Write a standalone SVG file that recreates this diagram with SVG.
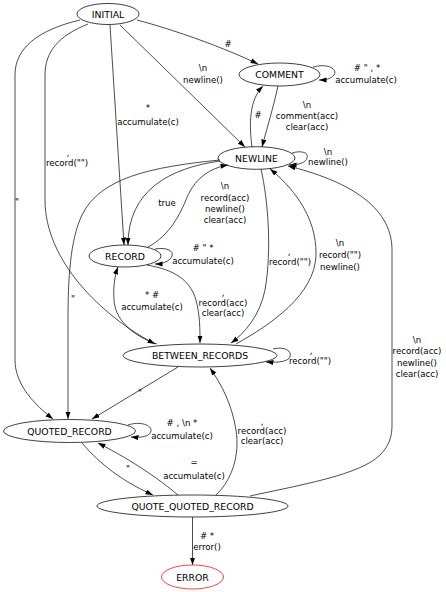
<svg xmlns="http://www.w3.org/2000/svg" width="446" height="592" viewBox="0 0 446 592">
<style>
.n ellipse{fill:none;stroke:#000;stroke-width:0.75}
.n text{font-family:"DejaVu Sans",sans-serif;font-size:9.3px;text-anchor:middle;fill:#000}
.e path{fill:none;stroke:#000;stroke-width:0.7;marker-end:url(#ah)}
.l text{font-family:"DejaVu Sans",sans-serif;font-size:8.6px;text-anchor:middle;fill:#000}
</style>
<defs>
<marker id="ah" markerUnits="userSpaceOnUse" markerWidth="9" markerHeight="6" refX="7.5" refY="2.6" orient="auto">
<path d="M0,0 L7.5,2.6 L0,5.2 z" fill="#000"/>
</marker>
</defs>
<rect width="446" height="592" fill="#fff"/>
<g id="edges" class="e">
<path d="M137,20 C175,30 225,48 258,64"/>
<path d="M120,25 L245,147"/>
<path d="M110,25 L124,245"/>
<path d="M88,24 C58,36 45,52 45,75 L45,200 C45,260 100,315 155,344"/>
<path d="M80,20 C38,30 15,48 15,75 L15,360 C15,385 35,405 53,419"/>
<path d="M313,67 C328,63 338,69 334,75 C331,79 325,80 319,80"/>
<path d="M278,86 C274,105 267,128 262,147"/>
<path d="M252,147 C249,125 249,100 263,86"/>
<path d="M292,153 C302,150 309,153 307,158 C306,162 300,165 289,165"/>
<path d="M220,161 C170,168 128,190 128,245"/>
<path d="M148,247 C170,235 180,215 188,195 C196,178 210,168 228,165"/>
<path d="M155,249 C167,247 174,251 172,256 C170,261 163,264 155,264"/>
<path d="M147,265 C175,270 190,280 196,300 C200,315 200,330 200,343"/>
<path d="M157,344 C130,335 115,318 114,300 C113,285 115,275 118,267"/>
<path d="M261,169 C268,200 272,250 265,290 C260,315 245,333 231,343"/>
<path d="M236,344 C270,325 315,295 316,255 C317,215 290,185 270,169"/>
<path d="M273,349 C285,346 292,351 290,357 C288,361 280,363 266,362"/>
<path d="M220,160 C150,167 100,178 82,215 C70,240 68,280 68,320 L68,419"/>
<path d="M178,367 L92,419"/>
<path d="M128,425 C140,421 152,425 151,431 C150,436 143,438 131,437"/>
<path d="M82,443 C95,458 115,478 153,495"/>
<path d="M178,495 C160,480 135,462 98,443"/>
<path d="M216,495 C232,480 240,455 236,430 C232,405 222,385 210,368"/>
<path d="M250,496 C300,485 360,475 380,455 C390,445 392,435 392,425 L392,250 C392,205 345,180 288,166"/>
<path d="M192.5,517 L192.5,565"/>
</g>
<g id="edge-labels" class="l">
<text x="228" y="47">#</text>
<text x="203" y="71">\n</text><text x="203" y="83">newline()</text>
<text x="148" y="111">*</text><text x="148" y="125">accumulate(c)</text>
<text x="68" y="156">,</text><text x="67" y="166">record("")</text>
<text x="17" y="205">"</text>
<text x="367" y="71"># " , *</text><text x="366" y="83">accumulate(c)</text>
<text x="258" y="118">#</text>
<text x="307" y="108">\n</text><text x="307" y="119">comment(acc)</text><text x="307" y="130">clear(acc)</text>
<text x="328" y="155">\n</text><text x="328" y="165">newline()</text>
<text x="167" y="206">true</text>
<text x="225" y="189">\n</text><text x="225" y="201">record(acc)</text><text x="225" y="212">newline()</text><text x="225" y="223">clear(acc)</text>
<text x="203" y="251"># " *</text><text x="203" y="264">accumulate(c)</text>
<text x="223" y="296">,</text><text x="223" y="306">record(acc)</text><text x="223" y="316">clear(acc)</text>
<text x="152" y="298">* #</text><text x="152" y="310">accumulate(c)</text>
<text x="289" y="255">,</text><text x="290" y="265">record("")</text>
<text x="340" y="246">\n</text><text x="340" y="258">record("")</text><text x="340" y="270">newline()</text>
<text x="311" y="354">,</text><text x="310" y="364">record("")</text>
<text x="73" y="302">"</text>
<text x="140" y="396">"</text>
<text x="182" y="426"># , \n *</text><text x="182" y="439">accumulate(c)</text>
<text x="128" y="472">"</text>
<text x="194" y="465">=</text><text x="194" y="479">accumulate(c)</text>
<text x="262" y="425">,</text><text x="262" y="434">record(acc)</text><text x="262" y="444">clear(acc)</text>
<text x="417" y="343">\n</text><text x="417" y="354">record(acc)</text><text x="417" y="366">newline()</text><text x="417" y="377">clear(acc)</text>
<text x="207" y="539"># *</text><text x="207" y="550">error()</text>
</g>
<g id="INITIAL" class="n"><ellipse cx="108" cy="14" rx="31" ry="10.5"/><text x="108" y="17.5">INITIAL</text></g>
<g id="COMMENT" class="n"><ellipse cx="279.5" cy="74.5" rx="40.5" ry="11.5"/><text x="279.5" y="78">COMMENT</text></g>
<g id="NEWLINE" class="n"><ellipse cx="256.5" cy="158" rx="38.5" ry="11.3"/><text x="256.5" y="161.5">NEWLINE</text></g>
<g id="RECORD" class="n"><ellipse cx="125" cy="256" rx="36" ry="11"/><text x="125" y="259.5">RECORD</text></g>
<g id="BETWEEN_RECORDS" class="n"><ellipse cx="200" cy="355.5" rx="77" ry="11.5"/><text x="200" y="359">BETWEEN_RECORDS</text></g>
<g id="QUOTED_RECORD" class="n"><ellipse cx="69.5" cy="431" rx="66" ry="11.5"/><text x="69.5" y="434.5">QUOTED_RECORD</text></g>
<g id="QUOTE_QUOTED_RECORD" class="n"><ellipse cx="192.5" cy="506" rx="95.5" ry="11"/><text x="192.5" y="509.5">QUOTE_QUOTED_RECORD</text></g>
<g id="ERROR" class="n"><ellipse cx="192.5" cy="577" rx="31" ry="12" style="stroke:#ff0000"/><text x="192.5" y="580.5">ERROR</text></g>
</svg>
